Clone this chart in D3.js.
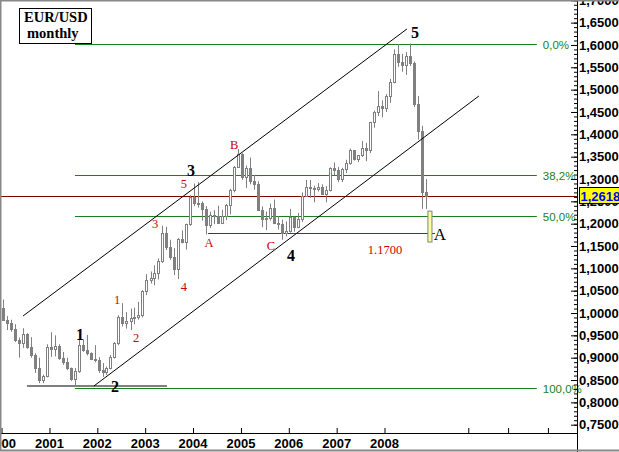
<!DOCTYPE html>
<html><head><meta charset="utf-8">
<script src="https://cdn.jsdelivr.net/npm/d3@7"></script>
<style>html,body{margin:0;padding:0;background:#fff;overflow:hidden}</style>
</head><body>
<svg id="chart" width="619" height="452"></svg>
<script>
// ---------- DATA ----------
const firstMonth = "2000-01", lastMonth = "2008-11";
const open = [
1.012,0.985,0.978,0.965,0.940,0.932,0.952,0.925,0.905,0.878,0.850,0.858,
0.925,0.920,0.926,0.900,0.890,0.876,0.852,0.870,0.928,0.918,0.910,0.898,
0.895,0.872,0.868,0.876,0.902,0.932,0.990,0.978,0.982,0.988,0.992,0.995,
1.049,1.073,1.078,1.090,1.117,1.180,1.148,1.125,1.098,1.165,1.160,1.199,
1.259,1.246,1.247,1.232,1.197,1.220,1.217,1.202,1.217,1.242,1.275,1.327,
1.357,1.304,1.325,1.296,1.289,1.231,1.210,1.213,1.234,1.202,1.199,1.179,
1.184,1.216,1.192,1.211,1.262,1.281,1.279,1.277,1.281,1.267,1.276,1.325,
1.320,1.300,1.322,1.336,1.365,1.345,1.353,1.369,1.364,1.427,1.449,1.463,
1.459,1.486,1.518,1.579,1.563,1.555,1.576,1.560,1.468,1.408,1.272];
const high = [
1.030,0.993,0.985,0.975,0.945,0.966,0.955,0.946,0.910,0.900,0.862,0.930,
0.957,0.950,0.930,0.913,0.900,0.878,0.877,0.940,0.940,0.951,0.912,0.928,
0.901,0.888,0.880,0.906,0.935,0.995,1.022,1.002,1.010,1.012,1.025,1.051,
1.087,1.093,1.107,1.122,1.195,1.193,1.164,1.145,1.168,1.185,1.200,1.264,
1.290,1.293,1.250,1.239,1.227,1.230,1.240,1.231,1.244,1.278,1.329,1.367,
1.358,1.330,1.348,1.309,1.295,1.239,1.227,1.245,1.254,1.217,1.209,1.205,
1.233,1.216,1.224,1.270,1.298,1.298,1.285,1.291,1.288,1.284,1.326,1.337,
1.327,1.325,1.343,1.368,1.365,1.354,1.385,1.381,1.428,1.453,1.497,1.476,
1.490,1.524,1.590,1.602,1.580,1.584,1.603,1.563,1.486,1.419,1.300];
const low = [
0.982,0.962,0.958,0.935,0.900,0.922,0.920,0.900,0.866,0.843,0.843,0.856,
0.902,0.903,0.895,0.884,0.872,0.848,0.839,0.866,0.913,0.905,0.895,0.890,
0.866,0.857,0.861,0.874,0.898,0.928,0.970,0.965,0.962,0.975,0.985,0.990,
1.040,1.066,1.062,1.075,1.112,1.141,1.119,1.085,1.076,1.156,1.142,1.195,
1.239,1.236,1.207,1.176,1.190,1.199,1.199,1.200,1.208,1.221,1.270,1.325,
1.298,1.280,1.288,1.276,1.230,1.192,1.186,1.207,1.199,1.187,1.164,1.172,
1.180,1.182,1.190,1.204,1.260,1.258,1.248,1.272,1.265,1.248,1.272,1.308,
1.293,1.293,1.313,1.332,1.341,1.338,1.349,1.340,1.358,1.415,1.441,1.438,
1.450,1.470,1.514,1.551,1.540,1.533,1.553,1.461,1.388,1.233,1.233];
const close = [
0.985,0.978,0.965,0.940,0.932,0.952,0.925,0.905,0.878,0.850,0.858,0.925,
0.920,0.926,0.900,0.890,0.876,0.852,0.870,0.928,0.918,0.910,0.898,0.895,
0.872,0.868,0.876,0.902,0.932,0.990,0.978,0.982,0.988,0.992,0.995,1.049,
1.073,1.078,1.090,1.117,1.180,1.148,1.125,1.098,1.165,1.160,1.199,1.259,
1.246,1.247,1.232,1.197,1.220,1.217,1.202,1.217,1.242,1.275,1.327,1.357,
1.304,1.325,1.296,1.289,1.231,1.210,1.213,1.234,1.202,1.199,1.179,1.184,
1.216,1.192,1.211,1.262,1.281,1.279,1.277,1.281,1.267,1.276,1.325,1.320,
1.300,1.322,1.336,1.365,1.345,1.353,1.369,1.364,1.427,1.449,1.463,1.459,
1.486,1.518,1.579,1.563,1.555,1.576,1.560,1.468,1.408,1.272,1.262];

const yearLabels = ["2000","2001","2002","2003","2004","2005","2006","2007","2008"];
const extraTickDates = ["2009-10-01","2010-08-01","2011-06-01"];
const yTickValues = [0.75,0.80,0.85,0.90,0.95,1.00,1.05,1.10,1.15,1.20,1.25,1.30,1.35,1.40,1.45,1.50,1.55,1.60,1.65,1.70];

const lastPrice = 1.2618;
const fibHigh = 1.6022, fibLow = 0.8321;
const fibRatios = [0, 0.382, 0.5, 1.0];
const fibLabels = ["0,0%","38,2%","50,0%","100,0%"];
const fibStart = "2001-07-18", fibEnd = "2011-03-12";

const channelUpper = [["2000-06-17",0.9933],["2008-06-24",1.6358]];
const channelLower = [["2001-12-10",0.8366],["2009-12-25",1.4858]];
const supportLine = [["2000-07-17",0.8366],["2003-06-20",0.8366]];
const targetLevel = 1.180, targetStart = "2004-04-28", targetEnd = "2009-01-24";
const targetBox = {from:"2008-12-01", to:"2009-01-01", top:1.228, bottom:1.159};

const blackLabels = [
  {t:"1", d:"2001-08-25", p:0.953, bold:true},
  {t:"2", d:"2002-05-19", p:0.835, bold:true},
  {t:"3", d:"2003-12-20", p:1.320, bold:true},
  {t:"4", d:"2006-01-21", p:1.130, bold:true},
  {t:"5", d:"2008-08-24", p:1.629, bold:true},
  {t:"A", d:"2009-03-03", p:1.177, bold:false}
];
const redLabels = [
  {t:"1", d:"2002-06-04", p:1.031},
  {t:"2", d:"2002-10-27", p:0.944},
  {t:"3", d:"2003-03-21", p:1.199},
  {t:"4", d:"2003-10-28", p:1.058},
  {t:"5", d:"2003-10-28", p:1.289},
  {t:"A", d:"2004-05-06", p:1.157},
  {t:"B", d:"2004-11-13", p:1.376},
  {t:"C", d:"2005-08-22", p:1.150},
  {t:"1.1700", d:"2008-01-09", p:1.143}
];

// ---------- SETUP ----------
const W = 619, H = 452, axisX = 577, axisY = 433;
const svg = d3.select("#chart");
const pd = d3.timeParse("%Y-%m-%d");
const pm = d3.timeParse("%Y-%m");
const x = d3.scaleTime().domain([new Date(2000,0,1), new Date(2008,0,1)]).range([1, 384]);
const y = d3.scaleLinear().domain([0.75, 1.70]).range([424.7, 0.3]);

const months = d3.timeMonth.range(pm(firstMonth), d3.timeMonth.offset(pm(lastMonth),1));
const candles = months.map((m,i)=>({date:m, o:open[i], h:high[i], l:low[i], c:close[i]}));

const GREEN = "#1a7f1a", MAROON = "#800000", RED = "#cc0000", GRAY = "#808080";

svg.append("rect").attr("width",W).attr("height",H).attr("fill","#fff");

// maroon current price line
svg.append("line").attr("x1",0).attr("x2",axisX).attr("y1",Math.round(y(lastPrice))+0.5).attr("y2",Math.round(y(lastPrice))+0.5)
  .attr("stroke",MAROON).attr("stroke-width",1);

// fib lines
const fib = fibRatios.map((r,i)=>({r, label:fibLabels[i], p: fibHigh - r*(fibHigh-fibLow)}));
const gF = svg.append("g");
fib.forEach(f=>{
  const yy = Math.round(y(f.p))+0.5;
  gF.append("line").attr("x1",x(pd(fibStart))).attr("x2",x(pd(fibEnd))).attr("y1",yy).attr("y2",yy)
    .attr("stroke",GREEN).attr("stroke-width",1);
  gF.append("text").attr("x",x(pd(fibEnd))+6).attr("y",yy).attr("dy","0.35em")
    .attr("font-family","Liberation Sans, Arial, sans-serif").attr("font-size",11.5).attr("fill",GREEN).text(f.label);
});

// red target line
svg.append("line").attr("x1",x(pd(targetStart))).attr("x2",x(pd(targetEnd)))
  .attr("y1",Math.round(y(targetLevel))+0.5).attr("y2",Math.round(y(targetLevel))+0.5)
  .attr("stroke",RED).attr("stroke-width",1);

// candles
const gC = svg.append("g");
candles.forEach(d=>{
  const cx = Math.round(x(d3.timeDay.offset(d.date,14)));
  gC.append("line").attr("x1",cx+0.5).attr("x2",cx+0.5).attr("y1",y(d.h)).attr("y2",y(d.l))
    .attr("stroke",GRAY).attr("stroke-width",1);
  const top = Math.round(y(Math.max(d.o,d.c))), bot = Math.round(y(Math.min(d.o,d.c)));
  gC.append("rect").attr("x",cx-0.5).attr("y",top+0.5).attr("width",2).attr("height",Math.max(bot-top,1))
    .attr("fill", d.c>=d.o ? "#fff" : GRAY).attr("stroke",GRAY).attr("stroke-width",1);
});

// target box
svg.append("rect").attr("x",x(pd(targetBox.from))).attr("y",y(targetBox.top))
  .attr("width",x(pd(targetBox.to))-x(pd(targetBox.from))).attr("height",y(targetBox.bottom)-y(targetBox.top))
  .attr("fill","#ffff99").attr("stroke",GRAY).attr("stroke-width",1);

// channel lines
[channelUpper, channelLower, supportLine].forEach(seg=>{
  svg.append("line").attr("x1",x(pd(seg[0][0]))).attr("y1",y(seg[0][1]))
    .attr("x2",x(pd(seg[1][0]))).attr("y2",y(seg[1][1]))
    .attr("stroke","#000").attr("stroke-width",1);
});

// labels
blackLabels.forEach(l=>{
  svg.append("text").attr("x",x(pd(l.d))).attr("y",y(l.p)).attr("dy","0.35em").attr("text-anchor","middle")
    .attr("font-family","Liberation Serif, Times New Roman, serif").attr("font-size", l.bold?16:17)
    .attr("font-weight", l.bold?"bold":"normal").attr("fill","#000").text(l.t);
});
redLabels.forEach(l=>{
  svg.append("text").attr("x",x(pd(l.d))).attr("y",y(l.p)).attr("dy","0.35em").attr("text-anchor","middle")
    .attr("font-family","Liberation Serif, Times New Roman, serif").attr("font-size",12.5)
    .attr("fill",RED).text(l.t);
});

// title box
const gT = svg.append("g");
gT.append("rect").attr("x",19.5).attr("y",8.5).attr("width",72).attr("height",35).attr("fill","#fff").attr("stroke","#000");
gT.append("text").attr("x",24).attr("y",21.5).attr("font-family","Liberation Serif, Times New Roman, serif")
  .attr("font-weight","bold").attr("font-size",14.5).text("EUR/USD");
gT.append("text").attr("x",27).attr("y",37.5).attr("font-family","Liberation Serif, Times New Roman, serif")
  .attr("font-weight","bold").attr("font-size",14.5).text("monthly");

// x axis
const xTicks = yearLabels.map(s=>d3.timeParse("%Y")(s));
const gx = svg.append("g").attr("transform",`translate(0,${axisY})`)
  .call(d3.axisBottom(x).tickValues(xTicks.concat(extraTickDates.map(pd))).tickSize(-5).tickPadding(6)
    .tickFormat(d=> yearLabels.includes(d3.timeFormat("%Y")(d)) && d.getMonth()===0 ? d3.timeFormat("%Y")(d) : ""));
gx.select(".domain").remove();
gx.selectAll(".tick line").attr("stroke","#000").attr("transform","translate(0.5,0)");
gx.selectAll("text").attr("font-family","Liberation Sans, Arial, sans-serif").attr("font-weight","bold").attr("font-size",13).attr("fill","#000");
svg.append("line").attr("x1",0).attr("x2",axisX).attr("y1",axisY+0.5).attr("y2",axisY+0.5).attr("stroke","#000");

// y axis
const fmt = d=> d3.format(".4f")(d).replace(".",",");
const gyMinor = svg.append("g").attr("transform",`translate(${axisX},0)`)
  .call(d3.axisRight(y).tickValues(d3.range(75,171).map(v=>v/100)).tickSize(-3).tickFormat(""));
gyMinor.select(".domain").remove();
const gy = svg.append("g").attr("transform",`translate(${axisX},0)`)
  .call(d3.axisRight(y).tickValues(yTickValues).tickSize(-6).tickPadding(2).tickFormat(fmt));
gy.select(".domain").remove();
svg.selectAll(".tick line").attr("stroke","#000");
gy.selectAll("text").attr("font-family","Liberation Sans, Arial, sans-serif").attr("font-weight","bold").attr("font-size",13).attr("fill","#000");
svg.append("line").attr("x1",axisX+0.5).attr("x2",axisX+0.5).attr("y1",0).attr("y2",H).attr("stroke","#000");

// last price box
const gL = svg.append("g");
gL.append("rect").attr("x",579.5).attr("y",Math.round(y(lastPrice))-8.5).attr("width",42).attr("height",16)
  .attr("fill","#ffff00").attr("stroke","#000");
gL.append("text").attr("x",580.5).attr("y",y(lastPrice)).attr("dy","0.35em")
  .attr("font-family","Liberation Sans, Arial, sans-serif").attr("font-weight","bold").attr("font-size",13)
  .attr("fill","#0000ff").text(fmt(lastPrice));

// frame
svg.append("path").attr("d",`M0.5,${H-1.5}V0.5H${W}M0,${H-1.5}H${W}`).attr("fill","none").attr("stroke","#888").attr("stroke-width",2);
</script>
</body></html>
